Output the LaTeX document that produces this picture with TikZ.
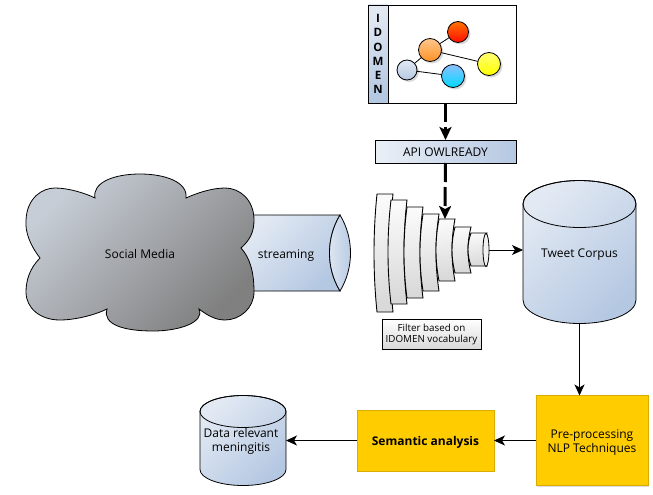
\documentclass[tikz,border=0pt]{standalone}
\usepackage{fontspec}
\setmainfont{Open Sans}
\usetikzlibrary{positioning,shadows,arrows.meta}
\definecolor{paleblue}{HTML}{E2E9F3}
\definecolor{steelblue}{HTML}{B5C8E2}
\definecolor{amber}{HTML}{FFCC00}
\tikzset{
  bluefill/.style={top color=paleblue,bottom color=steelblue,shading angle=45},
  filterseg/.style={draw,line width=.9pt,top color=black!2,bottom color=black!15,shading angle=10},
  yellowbox/.style={rectangle,draw=amber!85!black,line width=.4pt,fill=amber,align=center,outer sep=0pt,
    drop shadow={shadow xshift=1pt,shadow yshift=-1pt,opacity=.25}},
  ball/.style={circle,draw,line width=.8pt,inner sep=0pt,outer sep=0pt,shading angle=45,
    drop shadow={shadow xshift=2pt,shadow yshift=-2pt,opacity=.3}},
  link/.style={->,>={Stealth[length=11pt,width=10pt,inset=3pt]},line width=.8pt},
  heavylink/.style={->,>={Stealth[length=13pt,width=12pt,inset=3pt]},line width=3pt,dash pattern=on 19pt off 5pt}
}
% name, centre x, radius x, upper y, radius y, lower y
\newcommand{\dbcyl}[6]{
  \draw[line width=.8pt,bluefill](#2-#3,#4) -- (#2-#3,#6) arc[start angle=180,end angle=360,x radius=#3pt,y radius=#5pt] -- (#2+#3,#4) arc[start angle=0,end angle=180,x radius=#3pt,y radius=#5pt] -- cycle;
  \draw[line width=.8pt](#2,#4) ellipse (#3pt and #5pt);
  \node[rectangle,inner sep=0pt,outer sep=0pt,minimum width=2*#3pt,minimum height=#6-#4+2*#5pt](#1) at (#2,#4/2+#6/2){};
}
\begin{document}
\begin{tikzpicture}[x=1pt,y=-1pt,on grid]
\tikzstyle{every node}=[font=\fontsize{12}{14}\selectfont]
\useasboundingbox (0,0) rectangle (653,495);
\fill[white] (0,0) rectangle (653,495);
% ontology box
\node[rectangle,draw,line width=.8pt,minimum width=148pt,minimum height=98pt,outer sep=0pt](ontology) at (442,54){};
\node[rectangle,draw,line width=.8pt,minimum width=20pt,minimum height=98pt,outer sep=0pt,top color=paleblue,bottom color=steelblue,shading angle=20,align=center,inner sep=0pt,font=\fontsize{11.5}{14.2}\selectfont\bfseries](strip) at (378,54){I\\D\\O\\M\\E\\N};
\node[ball,minimum size=21pt,top color=orange!90!red,bottom color=red!90!orange](cred) at (458,32){};
\node[ball,minimum size=23pt,top color=orange!45,bottom color=orange!85](corange) at (430,50){};
\node[ball,minimum size=23pt,top color=yellow!55,bottom color=yellow](cyellow) at (489,64){};
\node[ball,minimum size=20pt,top color=paleblue,bottom color=steelblue](cgrey) at (407,70){};
\node[ball,minimum size=23pt,top color=cyan!45!blue!45,bottom color=cyan!85!blue](cblue) at (453,76){};
\draw[line width=.8pt](corange) -- (cred);
\draw[line width=.8pt](corange) -- (cyellow);
\draw[line width=.8pt](corange) -- (cgrey);
\draw[line width=.8pt](cgrey) -- (cblue);
\node[rectangle,draw,line width=.8pt,minimum width=141pt,minimum height=23pt,outer sep=0pt,left color=paleblue!70,right color=steelblue,label={[yshift=-1pt]center:API OWLREADY}](api) at (445.5,151.5){};
% social media
\draw[line width=.8pt,bluefill](240,215) -- (340,215) .. controls (326,238) and (326,268) .. (340,291) -- (240,291) -- cycle;
\draw[line width=.8pt,left color=paleblue,right color=steelblue](340,215) .. controls (326,238) and (326,268) .. (340,291) .. controls (354,268) and (354,238) .. (340,215) -- cycle;
\node(streaming) at (286,255.5){streaming};
\draw[line width=.8pt,top color=black!12!paleblue,bottom color=black!50,shading angle=45]
  (40,258) .. controls (30,245) and (25,232) .. (26,220) .. controls (27,198) and (42,188) .. (55,188) .. controls (68,188) and (85,193) .. (95,198)
  .. controls (92,182) and (115,174) .. (140,174) .. controls (165,174) and (188,182) .. (186,198)
  .. controls (197,193) and (212,188) .. (225,188) .. controls (240,188) and (254,200) .. (254,220) .. controls (254,232) and (250,240) .. (241,248)
  .. controls (250,258) and (254,272) .. (254,292) .. controls (254,308) and (240,320) .. (225,320) .. controls (215,320) and (207,315) .. (199,309)
  .. controls (205,322) and (180,331) .. (153,331) .. controls (125,331) and (102,325) .. (107,309)
  .. controls (95,315) and (75,320) .. (60,320) .. controls (40,320) and (26,308) .. (26,292) .. controls (26,280) and (30,268) .. (40,258) -- cycle;
\node(social) at (140,254){Social Media};
% filter
\foreach \xl/\xr/\yt/\yb in {377/393/194/312,391/407/200/304,407/423/207/298,423/439/214/291,439/455/219/281,455/471/227/273,471/487/233/266}
  \draw[filterseg](\xl,\yt) -- (\xr,\yt) .. controls (\xr-4,{(2*\yt+\yb)/3}) and (\xr-4,{(\yt+2*\yb)/3}) .. (\xr,\yb) -- (\xl,\yb) .. controls (\xl-4,{(\yt+2*\yb)/3}) and (\xl-4,{(2*\yt+\yb)/3}) .. (\xl,\yt) -- cycle;
\draw[line width=.8pt,fill=black!6](486,250) ellipse (3pt and 16.5pt);
\coordinate(filterin) at (445,219);
\coordinate(filterout) at (489,250);
\node[rectangle,draw,line width=.5pt,minimum width=99pt,minimum height=30pt,outer sep=0pt,top color=white,bottom color=black!15,align=center,font=\fontsize{9.8}{11}\selectfont](filterlabel) at (431.5,334){Filter based on\\IDOMEN vocabulary};
% stores and steps
\dbcyl{corpus}{579.5}{56.5}{204}{23.5}{300}
\node(corpuslabel) at (579.5,255){Tweet Corpus};
\node[yellowbox,minimum width=112pt,minimum height=90pt,label={[align=center,yshift=-2pt]center:Pre-processing\\NLP Techniques}](preproc) at (592,440.5){};
\node[yellowbox,minimum width=137pt,minimum height=61pt,label={[font=\fontsize{12}{14}\selectfont\bfseries,yshift=-2pt]center:Semantic analysis}](semantic) at (425.5,440.5){};
\dbcyl{relevant}{243}{43}{411.5}{16}{469.5}
\node[align=center](relevantlabel) at (241,441.5){Data relevant\\meningitis};
% connectors
\path[heavylink](ontology.south -| api) edge (api);
\path[heavylink](api) edge (filterin);
\path[link](filterout) edge (corpus.west |- filterout);
\path[link](corpus) edge (corpus |- preproc.north);
\path[link](preproc) edge (semantic);
\path[link](semantic) edge (relevant);
\end{tikzpicture}
\end{document}
